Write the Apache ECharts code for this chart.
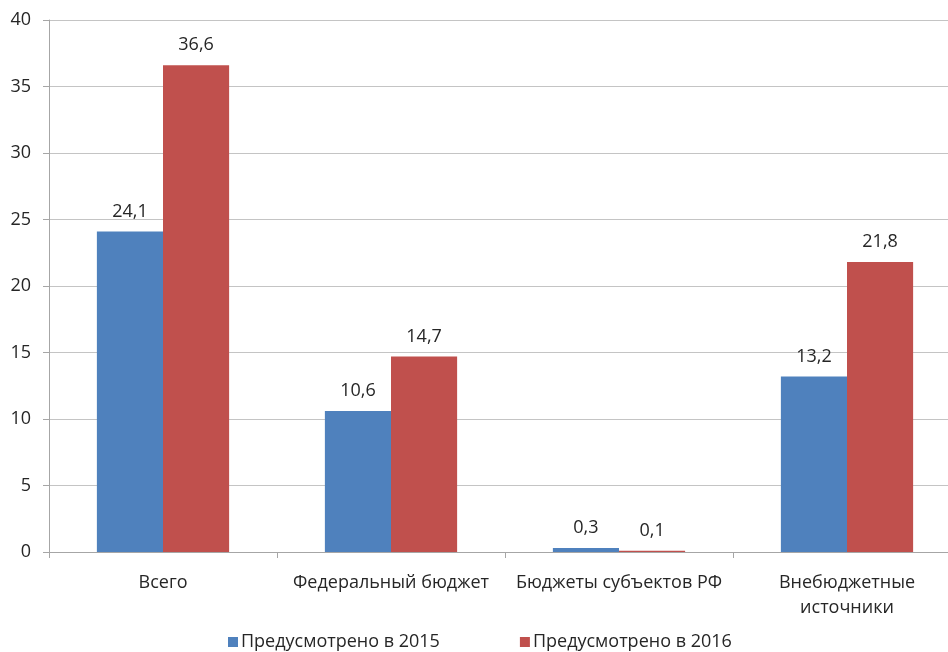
<!DOCTYPE html>
<html>
<head>
<meta charset="utf-8">
<script src="https://cdn.jsdelivr.net/npm/echarts@6/dist/echarts.min.js"></script>
<style>
  html, body { margin: 0; padding: 0; background: #fff; overflow: hidden; }
  /* canvas runs slightly past the right window edge, so the last category is cut off */
  #chart { width: 961px; height: 652px; }
</style>
</head>
<body>
<div id="chart"></div>
<script>
// Funding sources, billion rubles
const categories = ['Всего', 'Федеральный бюджет', 'Бюджеты субъектов РФ', 'Внебюджетные\nисточники'];
const seriesNames = ['Предусмотрено в 2015', 'Предусмотрено в 2016'];
const values2015 = [24.1, 10.6, 0.3, 13.2];
const values2016 = [36.6, 14.7, 0.1, 21.8];
const yTicks = [0, 5, 10, 15, 20, 25, 30, 35, 40];

const FONT = '"Open Sans", "Noto Sans", sans-serif';
const TEXT = '#262626';
const fmt = v => String(v.toFixed(1)).replace('.', ',');

const chart = echarts.init(document.getElementById('chart'), null, { renderer: 'canvas' });

const labelCfg = {
  show: true,
  position: 'top',
  distance: 11,
  color: TEXT,
  fontFamily: FONT,
  fontSize: 18,
  formatter: p => fmt(p.value)
};

chart.setOption({
  animation: false,
  textStyle: { fontFamily: FONT },
  grid: { left: 49, right: 0, top: 20, bottom: 100, containLabel: false },
  legend: {
    bottom: -4,
    left: 223,
    itemWidth: 10,
    itemHeight: 10,
    itemGap: 80,
    icon: 'rect',
    textStyle: { color: TEXT, fontFamily: FONT, fontSize: 18, padding: [0, 0, 0, -2] },
    data: seriesNames
  },
  xAxis: {
    type: 'category',
    data: categories,
    axisLine: { lineStyle: { color: '#a6a6a6', width: 1 } },
    axisTick: { show: true, length: 6, lineStyle: { color: '#a6a6a6' } },
    axisLabel: { interval: 0, color: TEXT, fontFamily: FONT, fontSize: 18, margin: 18, lineHeight: 25 }
  },
  yAxis: {
    type: 'value',
    min: yTicks[0],
    max: yTicks[yTicks.length - 1],
    interval: 5,
    axisLine: { show: true, lineStyle: { color: '#a6a6a6' } },
    axisTick: { show: true, length: 6, lineStyle: { color: '#a6a6a6' } },
    splitLine: { lineStyle: { color: '#c4c4c4' } },
    axisLabel: { color: TEXT, fontFamily: FONT, fontSize: 18, margin: 18 }
  },
  series: [
    {
      name: seriesNames[0],
      type: 'bar',
      data: values2015,
      barGap: '0%',
      barCategoryGap: '42%',
      itemStyle: { color: '#4f81bd' },
      label: labelCfg
    },
    {
      name: seriesNames[1],
      type: 'bar',
      data: values2016,
      barGap: '0%',
      barCategoryGap: '42%',
      itemStyle: { color: '#c0504d' },
      label: labelCfg
    }
  ]
});
</script>
</body>
</html>
